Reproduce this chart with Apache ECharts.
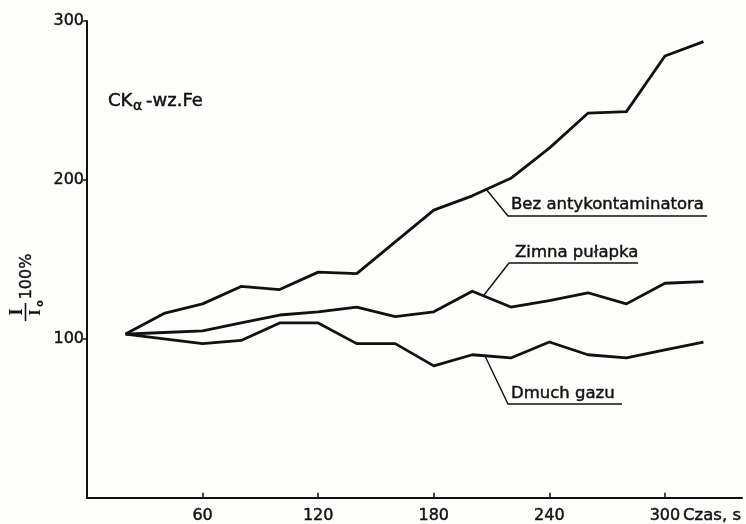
<!DOCTYPE html>
<html>
<head>
<meta charset="utf-8">
<script src="https://cdn.jsdelivr.net/npm/echarts@6/dist/echarts.min.js"></script>
<style>
html,body{margin:0;padding:0;background:#fdfdfc;}
#c{width:746px;height:524px;}
</style>
</head>
<body>
<div id="c"></div>
<script>
// Czas, s
var times = [20, 40, 60, 80, 100, 120, 140, 160, 180, 200, 220, 240, 260, 280, 300, 320];
// I/I0 100%
var bezAnty = [103, 116, 122, 133, 131, 142, 141, 161, 181, 190, 201, 220, 242, 243, 278, 287];
var zimnaPulapka = [103, 104, 105, 110, 115, 117, 120, 114, 117, 130, 120, 124, 129, 122, 135, 136];
var dmuchGazu = [103, 100, 97, 99, 110, 110, 97, 97, 83, 90, 88, 98, 90, 88, 93, 98];
var xTicks = [60, 120, 180, 240, 300];
var yTicks = [100, 200, 300];
var seriesNames = ['Bez antykontaminatora', 'Zimna pułapka', 'Dmuch gazu'];

function pairs(vals) { return times.map(function (t, i) { return [t, vals[i]]; }); }

var FONT = '"DejaVu Sans", sans-serif';
var INK = '#111';
var chart = echarts.init(document.getElementById('c'), null, {renderer: 'canvas'});

function lineSeries(name, vals) {
  return {
    name: name, type: 'line', data: pairs(vals), showSymbol: false, symbol: 'none',
    lineStyle: {color: INK, width: 2.8, join: 'round'}, silent: true, animation: false
  };
}
function txt(s, x, y, size, extra) {
  var st = {text: s, x: x, y: y, font: size + 'px ' + FONT, fill: INK, stroke: INK, lineWidth: 0.45, textVerticalAlign: 'middle'};
  if (extra) for (var k in extra) st[k] = extra[k];
  return {type: 'text', style: st};
}

chart.setOption({
  backgroundColor: '#fdfdfc',
  animation: false,
  grid: {left: 87, right: 4, top: 21, bottom: 26, containLabel: false},
  xAxis: {
    type: 'value', min: 0, max: 340, interval: 60,
    axisLine: {show: true, lineStyle: {color: INK, width: 2}},
    axisTick: {show: true, inside: true, length: 5, customValues: xTicks, lineStyle: {color: INK, width: 1.5}},
    axisLabel: {
      color: INK, fontFamily: FONT, fontSize: 16, margin: 10, customValues: xTicks,
      textBorderColor: INK, textBorderWidth: 0.45
    },
    splitLine: {show: false}
  },
  yAxis: {
    type: 'value', min: 0, max: 300, interval: 100,
    axisLine: {show: true, lineStyle: {color: INK, width: 2}},
    axisTick: {show: true, inside: false, length: 4, customValues: yTicks, lineStyle: {color: INK, width: 1.5}},
    axisLabel: {
      color: INK, fontFamily: FONT, fontSize: 16, margin: 3, customValues: yTicks,
      textBorderColor: INK, textBorderWidth: 0.45
    },
    splitLine: {show: false}
  },
  series: [
    lineSeries(seriesNames[0], bezAnty),
    lineSeries(seriesNames[1], zimnaPulapka),
    lineSeries(seriesNames[2], dmuchGazu)
  ],
  graphic: [
    // axis name
    txt('Czas, s', 683, 516, 16.5),
    // CK alpha - wz.Fe
    txt('CK', 108, 101, 18),
    txt('α', 133, 106, 14),
    txt('-wz.Fe', 146, 101, 18),
    // y axis label (rotated fraction)
    {
      type: 'group', x: 27, y: 290, rotation: Math.PI / 2,
      children: [
        {type: 'text', style: {text: 'I', x: -22, y: -10, font: 'bold 19px "Liberation Serif", serif', fill: INK, textAlign: 'center', textVerticalAlign: 'middle'}},
        {type: 'line', shape: {x1: -31, y1: -1.5, x2: -13, y2: -1.5}, style: {stroke: INK, lineWidth: 1.6}},
        {type: 'text', style: {text: 'I', x: -22.5, y: 9, font: 'bold 17px "Liberation Serif", serif', fill: INK, textAlign: 'center', textVerticalAlign: 'middle'}},
        {type: 'text', style: {text: 'o', x: -13.5, y: 13, font: 'bold 10px ' + FONT, fill: INK, textAlign: 'center', textVerticalAlign: 'middle'}},
        {type: 'text', style: {text: '100%', x: 13.5, y: 0, font: '16px ' + FONT, fill: INK, stroke: INK, lineWidth: 0.45, textAlign: 'center', textVerticalAlign: 'middle'}}
      ]
    },
    // leader lines + labels
    {type: 'polyline', shape: {points: [[486, 189], [508, 216], [707, 216]]}, style: {stroke: INK, lineWidth: 1.4, fill: null}},
    txt(seriesNames[0], 511, 205, 16.5),
    {type: 'polyline', shape: {points: [[484, 295], [509, 263], [638, 263]]}, style: {stroke: INK, lineWidth: 1.4, fill: null}},
    txt(seriesNames[1], 515, 253, 16.5),
    {type: 'polyline', shape: {points: [[485, 356], [508, 404], [622, 404]]}, style: {stroke: INK, lineWidth: 1.4, fill: null}},
    txt(seriesNames[2], 511, 394, 16.5)
  ]
});
</script>
</body>
</html>
